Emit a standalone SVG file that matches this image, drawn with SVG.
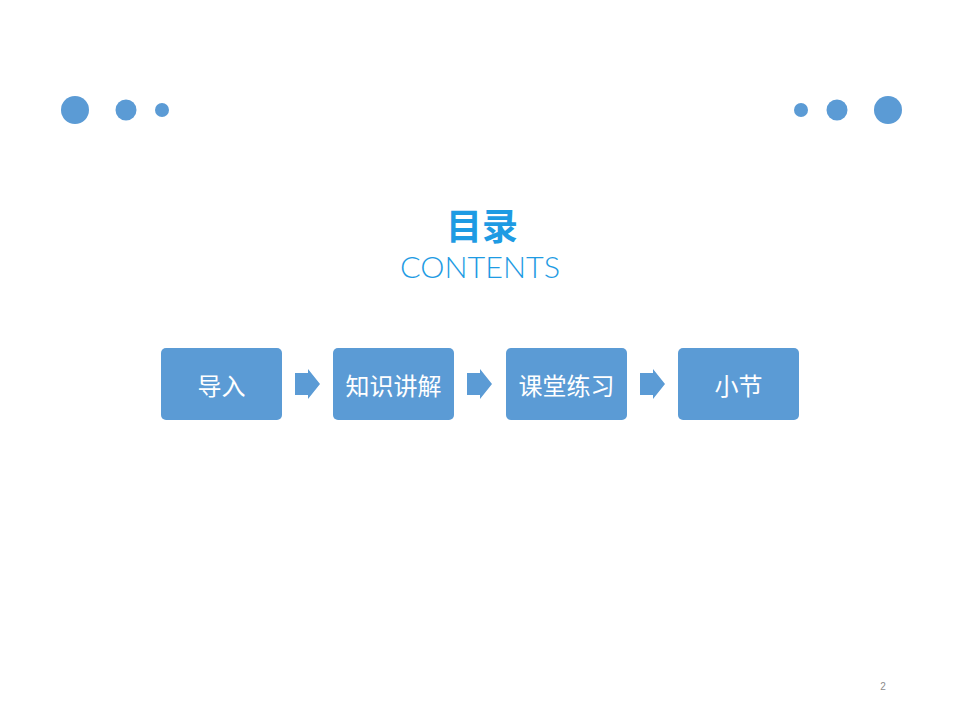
<svg xmlns="http://www.w3.org/2000/svg" width="960" height="720" viewBox="0 0 960 720">
<style>
.dot{fill:#5B9BD5}
.box{fill:#5B9BD5}
.lbl{fill:#FFFFFF;font-family:"Noto Sans CJK SC","Liberation Sans",sans-serif;font-size:24px;text-anchor:middle;dominant-baseline:central}
.arr{fill:#5B9BD5}
</style>
<rect width="960" height="720" fill="#FFFFFF"/>
<g id="dots-left">
<circle class="dot" cx="75" cy="110" r="14"/>
<circle class="dot" cx="126" cy="110" r="10.5"/>
<circle class="dot" cx="162" cy="110" r="7"/>
</g>
<g id="dots-right">
<circle class="dot" cx="801" cy="110" r="7"/>
<circle class="dot" cx="837" cy="110" r="10.5"/>
<circle class="dot" cx="888" cy="110" r="14"/>
</g>
<g id="title">
<text x="482" y="240" text-anchor="middle" font-family="'Noto Sans CJK SC',sans-serif" font-weight="bold" font-size="36" fill="#1E9BE3">目录</text>
<text x="480" y="278" text-anchor="middle" font-family="Lato,'Liberation Sans',sans-serif" font-weight="300" font-size="30" fill="#1E9BE3" textLength="160" lengthAdjust="spacingAndGlyphs">CONTENTS</text>
</g>
<g id="node1"><rect class="box" x="161" y="348" width="121" height="72" rx="5"/><text class="lbl" x="221.5" y="384">导入</text></g>
<g id="node2"><rect class="box" x="333" y="348" width="121" height="72" rx="5"/><text class="lbl" x="393.5" y="384">知识讲解</text></g>
<g id="node3"><rect class="box" x="506" y="348" width="121" height="72" rx="5"/><text class="lbl" x="566.5" y="384">课堂练习</text></g>
<g id="node4"><rect class="box" x="678" y="348" width="121" height="72" rx="5"/><text class="lbl" x="738.5" y="384">小节</text></g>
<g id="connectors">
<polygon class="arr" points="295,373 308,373 308,369 320,384 308,399 308,395 295,395"/>
<polygon class="arr" points="467,373 480,373 480,369 492,384 480,399 480,395 467,395"/>
<polygon class="arr" points="640,373 653,373 653,369 665,384 653,399 653,395 640,395"/>
</g>
<text x="883" y="690" text-anchor="middle" font-family="'Liberation Sans',sans-serif" font-size="10" fill="#8C8C8C">2</text>
</svg>
